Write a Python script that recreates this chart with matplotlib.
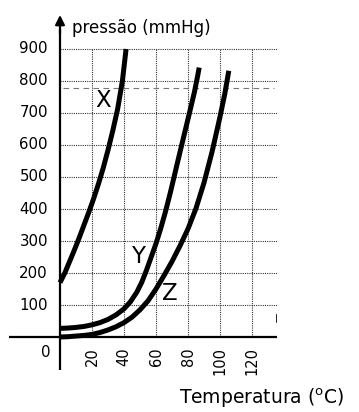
import numpy as np
import matplotlib.pyplot as plt

plt.rcParams['font.family'] = ['DejaVu Sans']

# curvas (temperatura em oC, pressao em mmHg)
tx = [0, 3, 6, 9, 12, 15, 18, 21, 24, 27, 30, 33, 36, 39, 41.3]
px = [170, 200, 236, 272, 310, 350, 390, 432, 478, 528, 584, 645, 712, 800, 900]

ty = [0, 5, 10, 15, 20, 25, 30, 35, 40, 44, 48, 51, 54, 57, 60, 63, 66, 69,
      72, 75, 78, 81, 84, 86, 87]
py = [27, 28, 30, 33, 38, 45, 55, 69, 88, 110, 140, 170, 208, 250, 292, 340,
      393, 452, 515, 578, 640, 702, 765, 815, 842]

tz = [0, 5, 10, 15, 20, 25, 30, 35, 40, 45, 50, 55, 60, 65, 70, 75, 80, 85,
      90, 95, 100, 103, 105.5]
pz = [0, 1, 3, 5, 8, 14, 22, 32, 45, 62, 85, 113, 150, 192, 236, 285, 338,
      402, 482, 578, 688, 760, 832]

xticks = [20, 40, 60, 80, 100, 120]
yticks = [100, 200, 300, 400, 500, 600, 700, 800, 900]
p_atm = 778

fig = plt.figure(figsize=(3.59, 4.12), dpi=100)
W, H = 359, 412
ax = fig.add_axes([9 / W, 1 - 370 / H, (277 - 9) / W, (370 - 12) / H])
ax.set_xlim(-31.875, 135.625)
ax.set_ylim(-103.1, 1015.6)
ax.axis('off')

# grade pontilhada
for v in yticks:
    ax.plot([0, 135.6], [v, v], color='#333333', lw=0.8, ls=(0, (1, 1)), zorder=1)
for t in xticks:
    ax.plot([t, t], [0, 900], color='#333333', lw=0.8, ls=(0, (1, 1)), zorder=1)

# linha tracejada (pressao atmosferica)
ax.plot([2, 134], [p_atm, p_atm], color='#777777', lw=0.8, ls=(0, (5, 4)), zorder=1)

# eixos
ax.plot([-31.875, 135.6], [0, 0], color='black', lw=1.6, zorder=3)
ax.plot([0, 0], [-103, 960], color='black', lw=1.6, zorder=3)
ax.annotate('', xy=(0, 1015), xytext=(0, 940),
            arrowprops=dict(arrowstyle='-|>', color='black', lw=1.6,
                            mutation_scale=14), annotation_clip=False)
ax.plot([135.4, 135.4], [47, 68], color='black', lw=1.2)

# curvas
for t, p in [(tx, px), (ty, py), (tz, pz)]:
    ax.plot(t, p, color='black', lw=3.6, solid_capstyle='butt',
            solid_joinstyle='round', zorder=4)

ax.text(26.9, 740, 'X', fontsize=16.5, ha='center', va='center')
ax.text(48.8, 253, 'Y', fontsize=16.5, ha='center', va='center')
ax.text(68.8, 137, 'Z', fontsize=16.5, ha='center', va='center')

for v in yticks:
    ax.text(-7.5, v, str(v), fontsize=10.8, ha='right', va='center')
ax.text(-6.25, -47, '0', fontsize=10.8, ha='right', va='center')
for t in xticks:
    ax.text(t, -31, str(t), fontsize=10.5, rotation=90, ha='center', va='top')

ax.text(7.5, 965, 'pressão (mmHg)', fontsize=12, ha='left', va='center')
ax.text(126, -192, 'Temperatura ($^{\\rm o}$C)', fontsize=13.5, ha='center',
        va='center', clip_on=False)

fig.savefig('out.png', dpi=100)
